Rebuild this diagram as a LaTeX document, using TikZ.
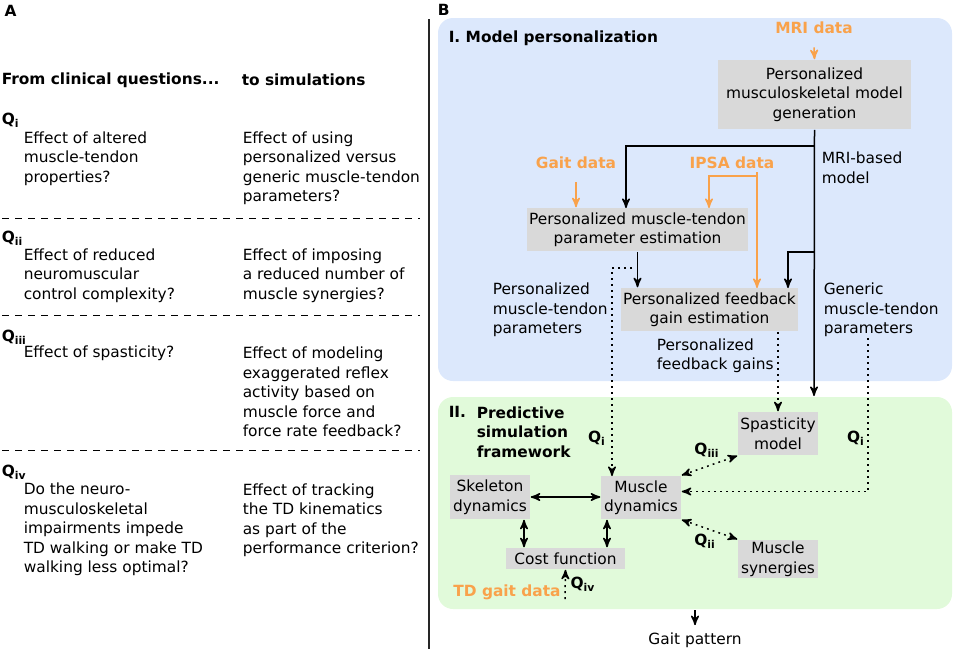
\documentclass[tikz,border=0pt]{standalone}
\usepackage{fontspec}
\setmainfont{DejaVu Sans}
\usepackage{xcolor}
\usetikzlibrary{arrows,calc,positioning}

\definecolor{bgblue}{HTML}{DCE8FC}
\definecolor{bggreen}{HTML}{E1FADA}
\definecolor{boxgray}{HTML}{D9D9D9}
\definecolor{datorange}{HTML}{F9A24B}

\tikzset{
  every node/.style={font=\fontsize{7.7}{9.75}\selectfont},
  stepbox/.style={fill=boxgray,inner sep=0pt,align=center},
  datlabel/.style={text=datorange,font=\fontsize{7.7}{9.75}\selectfont\bfseries},
  txt/.style={align=left,anchor=west,inner sep=0pt},
  hdr/.style={font=\fontsize{7.7}{9.75}\selectfont\bfseries},
  qlab/.style={font=\fontsize{7.7}{9.75}\selectfont\bfseries,inner sep=0pt},
  dotline/.style={dash pattern=on 0.9pt off 2.1pt},
  sepline/.style={dash pattern=on 3.5pt off 3pt,line width=0.5pt}
}
\newcommand{\qsub}[1]{Q\textsubscript{#1}}

\begin{document}
\begin{tikzpicture}[x=0.5pt,y=-0.5pt,>=stealth',line width=0.75pt]
  \useasboundingbox (0,0) rectangle (963,649);

  % panel A
  \node[txt,hdr] (la) at (4,11) {A};
  \node[txt,hdr] (hfrom) at (1,80) {From clinical questions...};
  \node[txt,hdr] (hto) at (241,80) {to simulations};

  \node[txt,qlab] (q1) at (1,120) {\qsub{i}};
  \node[txt] (c1) at (23,158.5) {Effect of altered\\muscle-tendon\\properties?};
  \node[txt] (s1) at (242,168) {Effect of using\\personalized versus\\generic muscle-tendon\\parameters?};

  \node[txt,qlab] (q2) at (1,238) {\qsub{ii}};
  \node[txt] (c2) at (23,275.5) {Effect of reduced\\neuromuscular\\control complexity?};
  \node[txt] (s2) at (242,275.5) {Effect of imposing\\a reduced number of\\muscle synergies?};

  \node[txt,qlab] (q3) at (1,337) {\qsub{iii}};
  \node[txt] (c3) at (23,353) {Effect of spasticity?};
  \node[txt] (s3) at (242,392) {Effect of modeling\\exaggerated reflex\\activity based on\\muscle force and\\force rate feedback?};

  \node[txt,qlab] (q4) at (1,472) {\qsub{iv}};
  \node[txt] (c4) at (23,529.5) {Do the neuro-\\musculoskeletal\\impairments impede\\TD walking or make TD\\walking less optimal?};
  \node[txt] (s4) at (242,520) {Effect of tracking\\the TD kinematics\\as part of the\\performance criterion?};

  \foreach \y in {218,315,450}
    \draw[sepline] (2,\y) -- (420,\y);
  \draw[line width=1pt,black!85] (429,19) -- (429,649);

  % panel B
  \node[txt,hdr] (lb) at (437,10) {B};
  \fill[bgblue,rounded corners=7.5pt] (438,18) rectangle (952,381);
  \fill[bggreen,rounded corners=7.5pt] (438,397) rectangle (952,609);

  \node[txt,hdr] (t1) at (448,38) {I. Model personalization};
  \node[txt,hdr] (t2a) at (448,412) {II.};
  \node[txt,hdr] (t2b) at (476,432) {Predictive\\simulation\\framework};

  \begin{scope}[every node/.append style={stepbox}]
    \node[minimum width=96.5pt,minimum height=34.5pt] (gen) at (814.5,94.5) {Personalized\\musculoskeletal model\\generation};
    \node[minimum width=110.5pt,minimum height=21.5pt] (mtpe) at (637.5,229.5) {Personalized muscle-tendon\\parameter estimation};
    \node[minimum width=88.5pt,minimum height=21.5pt] (fbge) at (709.5,309.5) {Personalized feedback\\gain estimation};
    \node[minimum width=40pt,minimum height=21.5pt] (spas) at (778,433.5) {Spasticity\\model};
    \node[minimum width=40pt,minimum height=21.5pt] (musc) at (641,497.5) {Muscle\\dynamics};
    \node[minimum width=40pt,minimum height=22pt] (skel) at (490,497) {Skeleton\\dynamics};
    \node[minimum width=59.5pt,minimum height=10.5pt] (cost) at (565.5,558.5) {Cost function};
    \node[minimum width=40pt,minimum height=19pt] (syn) at (778,559) {Muscle\\synergies};
  \end{scope}

  \node[datlabel] (mri) at (814,28) {MRI data};
  \node[datlabel] (gait) at (576,163) {Gait data};
  \node[datlabel] (ipsa) at (732,163) {IPSA data};
  \node[datlabel] (tdgait) at (507,592) {TD gait data};

  \node[txt] (mrim) at (821,168) {MRI-based\\model};
  \node[txt] (pmtp) at (492,310) {Personalized\\muscle-tendon\\parameters};
  \node[txt] (pfg) at (656,355.5) {Personalized\\feedback gains};
  \node[txt] (gmtp) at (823,310) {Generic\\muscle-tendon\\parameters};
  \node (gpat) at (695,640) {Gait pattern};

  \node[qlab] (qa) at (597,438) {\qsub{i}};
  \node[qlab] (qb) at (856,438) {\qsub{i}};
  \node[qlab] (qc) at (707,450) {\qsub{iii}};
  \node[qlab] (qd) at (705,541) {\qsub{ii}};
  \node[qlab] (qe) at (583,584) {\qsub{iv}};

  % free ends
  \coordinate (mainend) at (814,396);
  \coordinate (j1) at (814,146);
  \coordinate (j2) at (814,252);
  \coordinate (mtin) at (626,208);
  \coordinate (fbin) at (788,288);
  \coordinate (ip1) at (757,172);
  \coordinate (ip2) at (757,176);
  \coordinate (ipin1) at (757,288);
  \coordinate (ipin2) at (709,208);
  \coordinate (dt1) at (632,268);
  \coordinate (mcin) at (612,476);
  \coordinate (gn1) at (868,338);
  \coordinate (gpout) at (695,610);
  \coordinate (tdin) at (565,599);

  % solid
  \begin{scope}[->]
    \draw (gen.south) -- (mainend);
    \draw (j1) -| (mtin);
    \draw (j2) -| (fbin);
    \draw (mtpe.south) -- (mtpe.south |- fbge.north);
    \draw (gpout) -- (gpat.north);
    \draw[<->] (skel.east) -- (skel.east -| musc.west);
    \draw[<->] (skel.south -| 524,0) -- (cost.north -| 524,0);
    \draw[<->] (musc.south -| 607,0) -- (cost.north -| 607,0);
  \end{scope}

  % data
  \begin{scope}[->,datorange]
    \draw ([yshift=-3pt]mri.south) -- (gen.north);
    \draw ([yshift=-3pt]gait.south) -- (gait.south |- mtpe.north);
    \draw (ip1) -- (ipin1);
    \draw (ip2) -| (ipin2);
  \end{scope}

  % dotted
  \begin{scope}[->,dotline]
    \draw (dt1) -| (mcin);
    \draw (spas.north |- fbge.south) -- (spas.north);
    \draw (gn1) |- ([yshift=3pt]musc.east);
    \draw[<->] (musc.north east) -- (spas.south west);
    \draw[<->] (musc.south east) -- (syn.north west);
    \draw (tdin) -- (cost.south);
  \end{scope}
\end{tikzpicture}
\end{document}
